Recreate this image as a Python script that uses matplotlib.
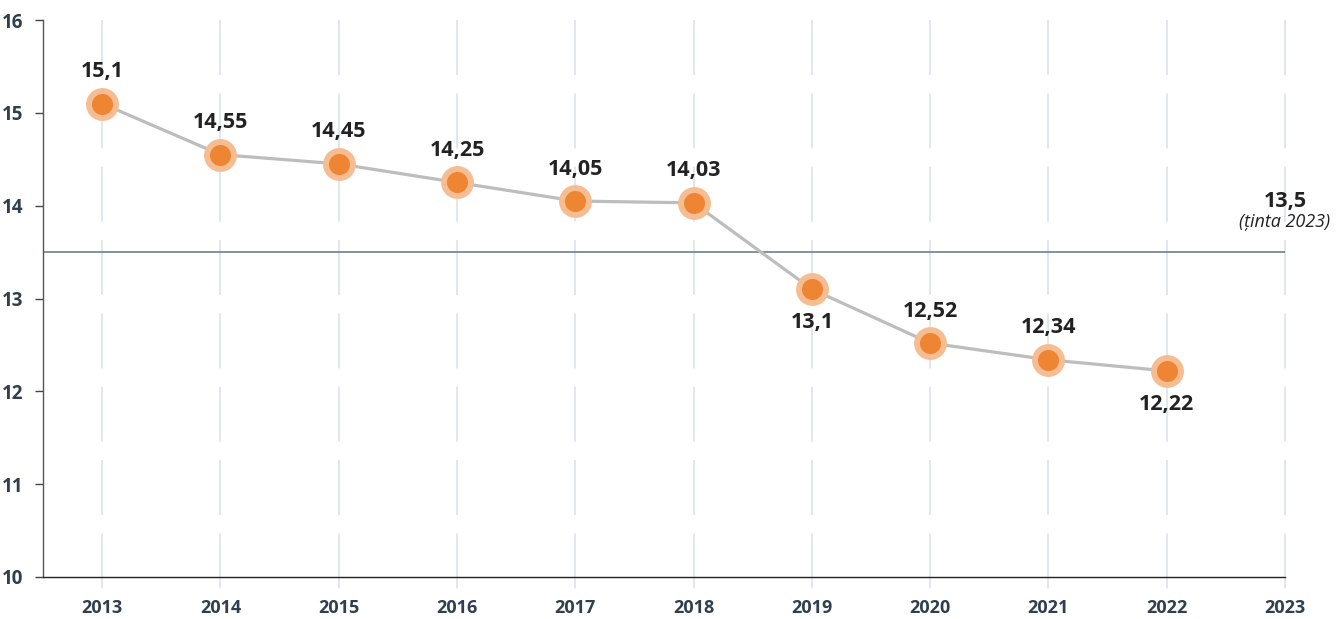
import matplotlib
matplotlib.use("Agg")
import matplotlib.pyplot as plt

years = [2013, 2014, 2015, 2016, 2017, 2018, 2019, 2020, 2021, 2022]
values = [15.1, 14.55, 14.45, 14.25, 14.05, 14.03, 13.1, 12.52, 12.34, 12.22]
labels = ["15,1", "14,55", "14,45", "14,25", "14,05", "14,03", "13,1", "12,52", "12,34", "12,22"]
below = [False, False, False, False, False, False, True, False, False, True]
xticks = list(range(2013, 2024))
yticks = [10, 11, 12, 13, 14, 15, 16]
target = 13.5

plt.rcParams['font.family'] = ['Open Sans', 'DejaVu Sans']

fig = plt.figure(figsize=(13.38, 6.19), dpi=100)
ax = fig.add_axes([43/1338, 1-577/619, (1285-43)/1338, (577-20)/619])
ax.set_xlim(2012.5, 2023)
ax.set_ylim(10, 16)

# dashed vertical gridlines extending below axis
for x in xticks:
    ax.plot([x, x], [16, 9.81], color="#d9e0e5", lw=1.1, linestyle=(0, (36, 12)),
            clip_on=False, zorder=1)

ax.axhline(target, color="#6d808e", lw=1.2, zorder=2)

ax.plot(years, values, color="#bdbdbd", lw=2.3, zorder=3)
ax.scatter(years, values, s=560, color="#f6bd92", zorder=4, linewidths=0)
ax.scatter(years, values, s=230, color="#ee8532", zorder=5, linewidths=0)

for x, v, lab, b in zip(years, values, labels, below):
    ax.annotate(lab, (x, v), xytext=(0, -24 if b else 23), textcoords="offset points",
                ha="center", va="center", fontsize=15.5, fontweight="bold", color="#222222",
                zorder=6)

ax.text(2023, 14.05, "13,5", ha="center", va="center", fontsize=15.5,
        fontweight="bold", color="#222222")
ax.text(2023, 13.82, "(ținta 2023)", ha="center", va="center", fontsize=13,
        style="italic", color="#222222")

ax.set_xticks(xticks)
ax.set_xticklabels([str(x) for x in xticks])
ax.set_yticks(yticks)
ax.tick_params(axis="x", length=0, pad=16, labelsize=13, labelcolor="#2e3f4f")
ax.tick_params(axis="y", length=6, width=1, color="#444444", pad=8, labelsize=13.5,
               labelcolor="#2e3f4f")
for t in ax.get_xticklabels() + ax.get_yticklabels():
    t.set_fontweight("bold")

for s in ["top", "right"]:
    ax.spines[s].set_visible(False)
ax.spines["left"].set_color("#555555")
ax.spines["bottom"].set_color("#222222")
ax.spines["left"].set_linewidth(1)
ax.spines["bottom"].set_linewidth(1)

fig.savefig("out.png", dpi=100)
